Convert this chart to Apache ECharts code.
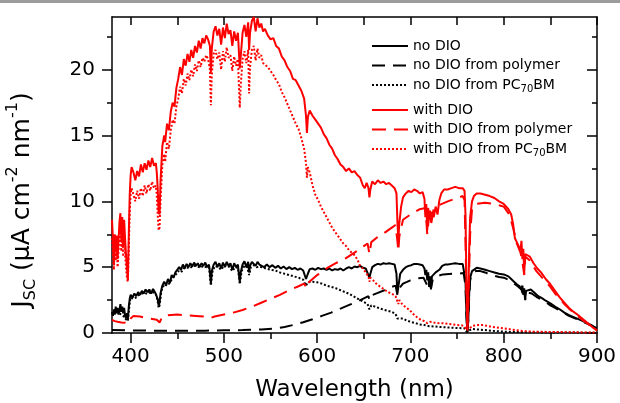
<!DOCTYPE html>
<html>
<head>
<meta charset="utf-8">
<script src="https://cdn.jsdelivr.net/npm/echarts@6/dist/echarts.min.js"></script>
<style>html,body{margin:0;padding:0;background:#fff;}#c{width:620px;height:403px;}</style>
</head>
<body>
<div id="c"></div>
<script>
// ---- tick values ----
const xMajorTicks = [400, 500, 600, 700, 800, 900];
const xMinorTicks = [450, 550, 650, 750, 850];
const xTopTicks = [400, 450, 500, 550, 600, 650, 700, 750, 800, 850, 900];
const yMajorTicks = [0, 5, 10, 15, 20];
const yMinorTicks = [2.5, 7.5, 12.5, 17.5, 22.5];

// ---- series names ----
const seriesNames = ['no DIO', 'no DIO from polymer', 'no DIO from PC70BM',
  'with DIO', 'with DIO from polymer', 'with DIO from PC70BM'];

// ---- data: [wavelength nm, Jsc] ----
const noDIO = [[380,1.6],[381,1.3],[382,1.8],[383,1.4],[384,2.0],[385,1.5],[386,1.9],[387,1.4],[388,1.7],[389,2.2],[390,1.6],[391,2.0],[392,1.5],[393,1.9],[394,1.3],[395,1.1],[396,1.5],[397,1.0],[398,2.0],[399,2.6],[400,2.9],[402,2.7],[404,3.0],[406,2.8],[408,3.1],[410,2.9],[412,3.2],[414,3.0],[416,3.3],[418,3.1],[420,3.3],[422,3.0],[424,3.35],[426,3.1],[428,3.2],[429,2.6],[430,2.1],[431,2.3],[432,3.0],[434,3.6],[436,3.9],[438,3.6],[440,4.1],[442,3.8],[444,4.4],[446,4.2],[448,4.6],[450,4.8],[452,5.0],[454,4.8],[456,5.2],[458,4.9],[460,5.25],[462,5.0],[464,5.3],[466,5.05],[468,5.35],[470,5.1],[472,5.3],[474,5.0],[476,5.3],[478,5.1],[480,5.35],[482,5.0],[484,5.2],[485,4.6],[486,3.8],[487,4.7],[489,5.2],[491,5.4],[493,5.0],[495,5.3],[497,4.9],[499,5.35],[501,5.0],[503,5.4],[505,5.1],[507,5.3],[509,4.8],[511,5.3],[513,5.0],[515,5.2],[516,4.5],[517,3.9],[518,4.6],[520,5.2],[522,5.45],[524,5.0],[526,5.4],[527,4.6],[528,5.1],[530,5.4],[532,5.5],[534,5.1],[536,5.4],[538,5.2],[540,5.3],[543,5.0],[546,5.2],[549,5.0],[552,5.15],[555,4.95],[558,5.1],[561,4.9],[564,5.05],[567,4.85],[570,5.0],[573,4.85],[576,4.95],[579,4.8],[582,4.9],[585,4.75],[587,4.6],[588,4.1],[589,4.0],[590,4.5],[592,4.85],[595,4.9],[598,4.8],[601,4.95],[604,4.85],[607,4.9],[610,4.8],[613,4.9],[616,4.75],[619,4.85],[622,4.8],[625,4.9],[628,4.75],[631,4.9],[634,5.0],[637,4.9],[640,5.05],[643,5.0],[646,5.1],[649,4.95],[652,4.9],[654,4.8],[656,4.2],[657,4.5],[659,5.0],[662,5.15],[665,5.25],[668,5.2],[671,5.3],[674,5.25],[677,5.3],[680,5.25],[683,5.2],[685,4.5],[686,3.0],[687,3.5],[689,4.5],[692,4.8],[695,5.0],[698,5.1],[701,5.15],[704,5.25],[707,5.25],[710,5.2],[713,5.15],[715,4.9],[716,4.4],[717,4.8],[718,4.0],[719,4.6],[720,3.5],[721,4.3],[722,3.3],[723,4.3],[725,4.4],[727,4.6],[729,4.55],[731,4.8],[734,5.1],[737,5.2],[740,5.2],[744,5.25],[748,5.3],[752,5.25],[756,5.25],[758,5.1],[759,4.0],[760,1.5],[761,0.05],[762,1.0],[763,3.0],[764,4.2],[766,4.7],[768,4.85],[771,4.95],[775,4.9],[780,4.8],[785,4.7],[790,4.6],[795,4.5],[800,4.45],[805,4.3],[808,4.1],[811,3.9],[814,3.7],[817,3.55],[819,3.3],[820,3.6],[821,2.9],[822,3.4],[823,2.6],[824,3.2],[826,3.3],[829,3.3],[833,3.05],[837,2.8],[841,2.65],[845,2.45],[850,2.25],[855,2.0],[860,1.8],[865,1.55],[870,1.35],[875,1.2],[880,1.05],[885,0.9],[890,0.72],[895,0.55],[900,0.35]];

const noDIOPolymer = [[380,0.22],[400,0.2],[420,0.18],[440,0.17],[460,0.17],[480,0.18],[500,0.2],[520,0.22],[540,0.27],[555,0.35],[565,0.45],[575,0.62],[585,0.82],[595,1.05],[605,1.3],[615,1.55],[625,1.85],[635,2.15],[645,2.45],[655,2.8],[656,2.5],[658,2.85],[665,3.05],[672,3.25],[680,3.5],[684,3.6],[686,2.9],[688,3.4],[692,3.75],[700,4.0],[708,4.15],[714,4.2],[716,3.9],[718,3.6],[720,3.9],[722,3.4],[724,4.1],[728,4.3],[735,4.45],[745,4.5],[752,4.5],[757,4.55],[759,3.6],[760,1.2],[761,0.05],[762,0.9],[763,2.8],[764,4.0],[766,4.55],[770,4.7],[775,4.7],[780,4.6],[785,4.45],[790,4.35],[795,4.25],[800,4.2],[805,4.05],[810,3.8],[815,3.55],[819,3.3],[820,3.45],[821,2.8],[822,3.25],[823,2.5],[825,3.1],[830,3.0],[835,2.75],[840,2.55],[845,2.35],[850,2.1],[855,1.9],[860,1.7],[865,1.5],[870,1.3],[875,1.15],[880,1.0],[885,0.85],[890,0.7],[895,0.52],[900,0.32]];

const noDIOPCBM = [[380,1.4],[382,1.6],[384,1.8],[386,1.7],[388,1.5],[390,1.4],[392,1.3],[394,1.1],[396,1.2],[397,0.9],[399,2.3],[400,2.7],[403,2.6],[406,2.7],[409,2.9],[412,3.0],[415,3.05],[418,2.95],[421,3.1],[424,3.1],[427,3.0],[429,2.4],[430,1.9],[431,2.1],[433,3.2],[436,3.7],[439,3.6],[442,3.8],[445,4.2],[448,4.4],[451,4.7],[454,4.6],[457,4.9],[460,5.0],[463,4.9],[466,5.05],[469,5.1],[472,5.05],[475,4.95],[478,5.1],[481,5.0],[484,5.0],[486,3.6],[488,4.8],[491,5.1],[494,5.0],[497,4.8],[500,5.1],[503,5.15],[506,5.0],[509,4.7],[512,5.0],[515,4.95],[517,3.7],[519,4.7],[522,5.1],[525,5.0],[527,4.4],[529,5.0],[532,5.15],[535,5.0],[538,5.05],[541,5.0],[545,4.9],[550,4.8],[555,4.75],[560,4.6],[565,4.5],[570,4.4],[575,4.3],[580,4.2],[585,4.05],[588,3.6],[590,3.85],[595,3.9],[600,3.85],[605,3.75],[610,3.6],[615,3.5],[620,3.4],[625,3.25],[630,3.1],[635,2.95],[640,2.75],[645,2.55],[650,2.35],[654,2.2],[656,1.8],[658,2.1],[662,2.0],[666,1.9],[670,1.8],[675,1.7],[680,1.6],[684,1.45],[686,1.1],[688,1.25],[692,1.1],[696,0.95],[700,0.85],[705,0.75],[710,0.65],[715,0.6],[720,0.52],[725,0.5],[730,0.47],[740,0.42],[750,0.38],[758,0.35],[760,0.1],[761,0.0],[763,0.2],[766,0.3],[770,0.28],[780,0.22],[790,0.15],[800,0.1],[820,0.06],[850,0.04],[900,0.02]];

const withDIO = [[380,8.6],[381,7.2],[382,5.2],[383,7.5],[384,6.3],[385,7.4],[386,5.6],[387,7.0],[388,8.4],[389,9.1],[390,7.0],[391,8.8],[392,6.5],[393,8.6],[394,7.2],[395,6.0],[396,5.0],[397,4.0],[398,7.5],[399,10.5],[400,12.0],[401,12.6],[403,12.2],[405,11.6],[407,12.3],[409,11.9],[411,12.8],[413,12.2],[415,12.9],[417,12.4],[419,13.1],[421,12.6],[423,13.3],[425,12.7],[427,12.9],[428,12.2],[429,11.0],[430,9.2],[431,9.0],[432,11.5],[434,14.2],[436,15.0],[437,14.5],[439,15.9],[441,15.4],[443,16.8],[445,17.5],[447,17.2],[449,18.6],[451,19.3],[453,20.2],[455,19.6],[457,20.8],[459,20.3],[461,21.2],[463,20.6],[465,21.5],[467,20.9],[469,21.8],[471,21.3],[473,22.2],[475,21.6],[477,22.4],[479,22.0],[481,22.6],[483,22.3],[485,21.8],[486,19.8],[487,21.6],[489,22.9],[491,23.3],[493,22.6],[495,23.1],[497,21.9],[499,23.2],[501,22.4],[503,23.5],[505,22.7],[507,23.0],[509,21.8],[511,22.9],[513,22.2],[515,22.8],[517,20.1],[518,21.0],[520,22.8],[522,23.4],[524,22.5],[526,23.6],[527,21.5],[528,22.8],[530,23.7],[532,24.0],[534,22.9],[536,23.9],[538,23.2],[540,23.5],[542,22.9],[544,23.1],[547,22.6],[550,22.3],[553,22.4],[556,21.8],[559,21.6],[562,21.0],[565,20.7],[568,20.2],[571,19.9],[574,19.3],[577,19.2],[580,18.8],[583,18.4],[586,17.8],[588,16.5],[589,15.2],[590,16.4],[592,16.9],[595,16.5],[598,16.2],[601,15.9],[604,15.6],[607,15.1],[610,14.8],[613,14.3],[616,14.0],[619,13.5],[622,13.2],[625,12.8],[628,12.6],[631,12.3],[634,12.5],[637,12.2],[640,12.3],[643,12.0],[646,11.8],[649,11.2],[651,11.0],[653,11.4],[655,11.0],[656,10.3],[657,10.9],[659,11.5],[662,11.3],[665,11.6],[668,11.4],[671,11.5],[674,11.3],[677,11.4],[680,11.2],[683,11.0],[685,10.6],[686,8.5],[687,7.1],[688,8.3],[690,9.6],[692,10.3],[695,10.6],[698,10.8],[701,10.7],[704,10.9],[707,10.8],[710,10.6],[713,10.7],[715,10.2],[716,8.8],[717,9.8],[718,7.8],[719,9.5],[720,8.6],[721,9.3],[722,8.4],[723,9.2],[725,8.8],[727,9.6],[729,9.0],[731,10.1],[733,10.6],[736,10.9],[740,10.9],[744,11.0],[748,11.1],[752,11.0],[756,11.0],[758,10.8],[759,9.0],[760,4.0],[761,0.3],[762,2.5],[763,6.5],[764,8.8],[766,10.0],[768,10.4],[771,10.6],[775,10.6],[780,10.5],[785,10.4],[790,10.25],[795,10.0],[800,9.8],[805,9.4],[808,9.0],[810,8.3],[812,7.2],[814,6.9],[816,6.6],[818,6.3],[819,7.0],[820,5.6],[821,6.4],[822,4.6],[823,6.0],[825,5.9],[828,5.8],[832,5.3],[836,4.9],[840,4.6],[845,4.1],[850,3.7],[855,3.2],[860,2.7],[865,2.3],[870,1.9],[875,1.6],[880,1.35],[885,1.05],[890,0.75],[895,0.45],[900,0.2]];

const withDIOPolymer = [[380,1.0],[383,0.9],[386,0.85],[390,0.8],[394,0.78],[397,0.7],[400,1.1],[403,1.3],[410,1.25],[420,1.1],[428,1.0],[431,0.8],[434,1.25],[440,1.35],[450,1.4],[460,1.35],[470,1.3],[480,1.25],[486,1.15],[490,1.25],[500,1.4],[510,1.55],[520,1.75],[530,2.0],[540,2.3],[550,2.6],[560,2.9],[570,3.25],[580,3.55],[586,3.75],[589,3.4],[591,3.85],[600,4.4],[610,4.9],[620,5.3],[630,5.65],[640,6.1],[650,6.6],[654,6.8],[656,6.0],[658,6.9],[665,7.3],[672,7.6],[680,8.0],[684,8.2],[686,7.0],[687,6.2],[688,7.3],[692,8.6],[700,9.0],[710,9.4],[716,9.5],[718,7.5],[720,8.9],[722,8.2],[725,9.5],[730,9.7],[740,10.0],[750,10.25],[756,10.4],[758,10.1],[760,3.5],[761,0.3],[762,2.3],[764,7.5],[766,9.4],[770,9.8],[780,9.9],[790,9.8],[800,9.6],[806,9.0],[810,8.0],[814,6.8],[818,6.1],[820,5.4],[822,4.4],[823,5.8],[828,5.5],[835,4.7],[840,4.3],[845,3.9],[850,3.5],[855,3.0],[860,2.6],[865,2.2],[870,1.85],[875,1.55],[880,1.25],[885,0.95],[890,0.7],[895,0.45],[900,0.2]];

const withDIOPCBM = [[380,7.2],[381,6.0],[382,4.8],[383,6.5],[384,5.5],[385,6.6],[386,5.0],[387,6.3],[388,7.6],[389,8.2],[390,6.2],[391,7.8],[392,5.8],[393,7.4],[394,6.0],[395,5.0],[396,4.2],[397,3.9],[398,6.5],[399,9.2],[400,10.6],[401,11.0],[403,10.5],[405,10.0],[407,10.8],[409,10.2],[411,11.0],[413,10.4],[415,11.2],[417,10.6],[419,11.3],[421,10.8],[423,11.5],[425,11.0],[427,11.2],[428,10.5],[429,9.0],[430,7.8],[431,8.0],[432,10.0],[434,12.8],[436,13.6],[437,13.0],[439,14.5],[441,14.0],[443,15.4],[445,16.2],[447,15.9],[449,17.2],[451,17.8],[453,18.7],[455,18.2],[457,19.3],[459,18.8],[461,19.7],[463,19.2],[465,20.0],[467,19.5],[469,20.4],[471,19.9],[473,20.7],[475,20.2],[477,20.9],[479,20.6],[481,21.1],[483,20.8],[485,20.0],[486,17.3],[487,19.6],[489,21.2],[491,21.5],[493,20.8],[495,21.3],[497,20.0],[499,21.4],[501,20.6],[503,21.7],[505,20.9],[507,21.1],[509,19.9],[511,21.0],[513,20.3],[515,20.8],[517,17.1],[518,18.8],[520,20.8],[522,21.4],[524,20.5],[526,21.5],[527,18.2],[528,20.2],[530,21.5],[532,21.8],[534,20.7],[536,21.6],[538,20.9],[540,21.1],[542,20.5],[544,20.6],[547,20.2],[550,19.9],[553,19.6],[556,19.2],[559,18.9],[562,18.3],[565,17.9],[568,17.4],[571,16.9],[574,16.4],[577,15.9],[580,15.5],[583,14.8],[586,14.0],[588,12.9],[589,11.8],[590,12.6],[592,12.2],[595,11.2],[598,10.5],[601,10.1],[604,9.6],[607,9.2],[610,8.8],[613,8.4],[616,8.0],[619,7.7],[622,7.4],[625,7.1],[628,6.8],[631,6.6],[634,6.3],[637,6.1],[640,5.9],[643,5.6],[646,5.1],[649,4.9],[652,4.6],[655,4.3],[656,3.9],[657,4.2],[660,4.0],[664,3.7],[668,3.5],[672,3.3],[676,3.1],[680,3.0],[684,2.8],[686,2.4],[687,2.2],[688,2.5],[691,2.2],[695,1.95],[699,1.75],[703,1.45],[707,1.2],[711,1.0],[715,0.9],[718,0.75],[721,0.85],[725,0.8],[730,0.75],[735,0.75],[740,0.7],[745,0.65],[750,0.6],[755,0.58],[758,0.5],[760,0.2],[761,0.05],[762,0.15],[764,0.4],[767,0.55],[772,0.6],[778,0.6],[785,0.5],[792,0.42],[800,0.35],[810,0.25],[820,0.15],[830,0.1],[850,0.08],[870,0.06],[900,0.03]];

const seriesData = [noDIO, noDIOPolymer, noDIOPCBM, withDIO, withDIOPolymer, withDIOPCBM];
const seriesColors = ['#000000', '#000000', '#000000', '#ff0000', '#ff0000', '#ff0000'];
const seriesDash = ['solid', [13, 8], [2, 2], 'solid', [14, 8], [2, 2]];

const FONT = 'DejaVu Sans, Liberation Sans, Arial, sans-serif';
const chart = echarts.init(document.getElementById('c'), null, {renderer: 'canvas'});

const axisLine = {show: true, onZero: false, lineStyle: {color: '#000', width: 1.5}};
function xAx(opts) {
  return Object.assign({type: 'value', min: 380, max: 900, gridIndex: 0, splitLine: {show: false}}, opts);
}
function yAx(opts) {
  return Object.assign({type: 'value', min: 0, max: 24, gridIndex: 0, splitLine: {show: false}}, opts);
}

const legendRich = {
  t: {fontSize: 14, lineHeight: 18, fontFamily: FONT, color: '#000'},
  s: {fontSize: 10, lineHeight: 9, verticalAlign: 'bottom', fontFamily: FONT, color: '#000'}
};
function legendFmt(name) {
  const i = name.indexOf('PC70BM');
  if (i < 0) return '{t|' + name + '}';
  return '{t|' + name.slice(0, i) + 'PC}{s|70}{t|BM}';
}
function legendBlock(names, top) {
  return {
    data: names, orient: 'vertical', left: 371, top: top, padding: 0,
    itemWidth: 36, itemHeight: 14, itemGap: 5.5, selectedMode: false,
    itemStyle: {opacity: 0},
    formatter: legendFmt,
    textStyle: {fontFamily: FONT, fontSize: 14, color: '#000', rich: legendRich}
  };
}

chart.setOption({
  animation: false,
  backgroundColor: '#ffffff',
  grid: {left: 112, right: 23, top: 17, bottom: 70, containLabel: false, outerBoundsMode: 'none'},
  legend: [legendBlock(seriesNames.slice(0, 3), 39), legendBlock(seriesNames.slice(3), 103)],
  xAxis: [
    xAx({position: 'bottom', axisLine: axisLine,
      axisTick: {show: true, customValues: xMajorTicks, length: 10, lineStyle: {color: '#000', width: 1.5}},
      axisLabel: {show: true, customValues: xMajorTicks, margin: 14, fontSize: 20, color: '#000', fontFamily: FONT},
      name: 'Wavelength (nm)', nameLocation: 'middle', nameGap: 46,
      nameTextStyle: {fontSize: 23, color: '#000', fontFamily: FONT}}),
    xAx({position: 'bottom', axisLine: {show: false},
      axisTick: {show: true, customValues: xMinorTicks, length: 6, lineStyle: {color: '#000', width: 1.5}},
      axisLabel: {show: false}}),
    xAx({position: 'top', axisLine: axisLine,
      axisTick: {show: true, inside: true, customValues: xTopTicks, length: 8, lineStyle: {color: '#000', width: 1.5}},
      axisLabel: {show: false}})
  ],
  yAxis: [
    yAx({position: 'left', axisLine: axisLine,
      axisTick: {show: true, customValues: yMajorTicks, length: 10, lineStyle: {color: '#000', width: 1.5}},
      axisLabel: {show: true, customValues: yMajorTicks, margin: 17, fontSize: 20, color: '#000', fontFamily: FONT}}),
    yAx({position: 'left', axisLine: {show: false},
      axisTick: {show: true, customValues: yMinorTicks, length: 5, lineStyle: {color: '#000', width: 1.5}},
      axisLabel: {show: false}}),
    yAx({position: 'right', axisLine: axisLine,
      axisTick: {show: true, inside: true, customValues: yMajorTicks, length: 10, lineStyle: {color: '#000', width: 1.5}},
      axisLabel: {show: false}}),
    yAx({position: 'right', axisLine: {show: false},
      axisTick: {show: true, inside: true, customValues: yMinorTicks, length: 5, lineStyle: {color: '#000', width: 1.5}},
      axisLabel: {show: false}})
  ],
  graphic: [
    {type: 'rect', left: 0, top: 0, shape: {width: 620, height: 3}, style: {fill: '#9c9c9c'}, silent: true},
    {type: 'text', x: 22, y: 200, rotation: Math.PI / 2, silent: true,
      style: {
        text: '{m|J}{sub|SC}{m| (\u03BCA cm}{sup|-2}{m| nm}{sup|-1}{m|)}',
        align: 'center', verticalAlign: 'middle',
        rich: {
          m: {fontSize: 25, lineHeight: 34, fontFamily: FONT, fill: '#000'},
          sub: {fontSize: 16, lineHeight: 16, verticalAlign: 'bottom', fontFamily: FONT, fill: '#000'},
          sup: {fontSize: 16, lineHeight: 16, verticalAlign: 'top', fontFamily: FONT, fill: '#000'}
        }
      }}
  ],
  series: seriesNames.map((name, i) => ({
    name: name, type: 'line', xAxisIndex: 0, yAxisIndex: 0,
    data: seriesData[i], symbol: 'none', showSymbol: false, smooth: false,
    clip: true, silent: true,
    lineStyle: {color: seriesColors[i], width: 2, type: seriesDash[i]},
    itemStyle: {color: seriesColors[i]}
  }))
});
</script>
</body>
</html>
